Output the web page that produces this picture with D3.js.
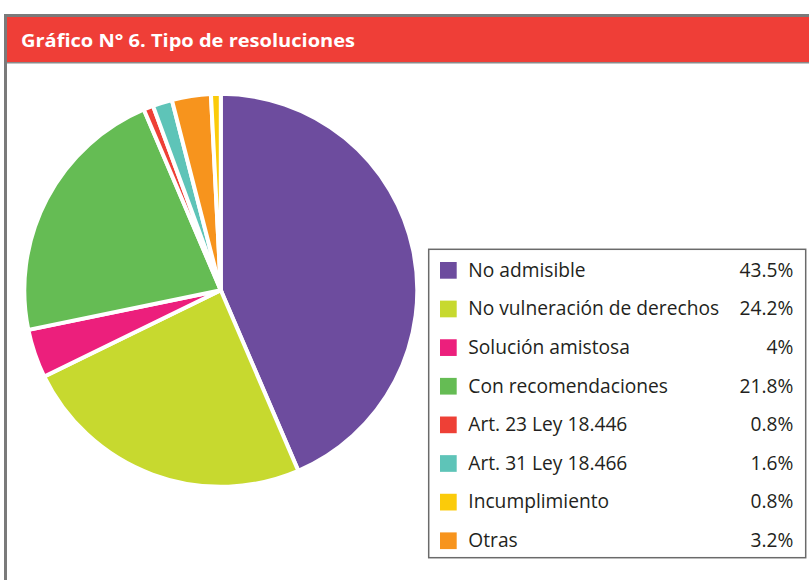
<!DOCTYPE html>
<html><head><meta charset="utf-8">
<script src="https://cdn.jsdelivr.net/npm/d3@7/dist/d3.min.js"></script>
<style>html,body{margin:0;padding:0;background:#fff;}svg{display:block;}</style>
</head><body>
<svg id="c" width="809" height="580"></svg>
<script>
const title = "Gráfico N° 6. Tipo de resoluciones";
const categories = ["No admisible","No vulneración de derechos","Solución amistosa","Con recomendaciones","Art. 23 Ley 18.446","Art. 31 Ley 18.466","Incumplimiento","Otras"];
const values = [43.5,24.2,4,21.8,0.8,1.6,0.8,3.2];
const valueLabels = ["43.5%","24.2%","4%","21.8%","0.8%","1.6%","0.8%","3.2%"];
const colors = ["#6D4C9E","#C7D92F","#EC1F7C","#65BC54","#EE4036","#5EC4B8","#FBCB0A","#F7941D"];
// order of slices in the pie (clockwise from 12 o'clock)
const pieOrder = [0,1,2,3,4,5,7,6];

const svg = d3.select("#c");
const font = "'Open Sans', sans-serif";

// frame
svg.append("rect").attr("x",5.5).attr("y",15.5).attr("width",820).attr("height",600)
  .attr("fill","#fff").attr("stroke","#7a7a7a").attr("stroke-width",3);
svg.append("rect").attr("x",7).attr("y",17).attr("width",810).attr("height",45).attr("fill","#EF3E37");
svg.append("line").attr("x1",7).attr("x2",809).attr("y1",62.7).attr("y2",62.7).attr("stroke","#8a8a8a").attr("stroke-width",1.5);

svg.append("text").attr("x",21).attr("y",47.3).attr("fill","#fff")
  .attr("font-family",font).attr("font-weight",700).attr("font-size",18.5)
  .attr("textLength",334).attr("lengthAdjust","spacingAndGlyphs").text(title);

// pie
const cx = 220.8, cy = 290.3, R = 196.5;
const pie = d3.pie().sort(null).value(i => values[i]);
const arc = d3.arc().innerRadius(0).outerRadius(R);
const g = svg.append("g").attr("transform",`translate(${cx},${cy})`);
g.selectAll("path").data(pie(pieOrder)).join("path")
  .attr("d",arc).attr("fill",d => colors[d.data])
  .attr("stroke","#fff").attr("stroke-width",4).attr("stroke-linejoin","miter");

// legend
svg.append("rect").attr("x",428.7).attr("y",249.3).attr("width",377).attr("height",308.4)
  .attr("fill","#fff").attr("stroke","#6a6a6a").attr("stroke-width",1.5);
const y = d3.scalePoint().domain(d3.range(categories.length)).range([270.3,540.7]);
const lg = svg.append("g");
const rows = lg.selectAll("g").data(d3.range(categories.length)).join("g")
  .attr("transform", i => `translate(0,${y(i)})`);
rows.append("rect").attr("x",440).attr("y",-8.3).attr("width",16.7).attr("height",16.7).attr("fill",i=>colors[i]);
const labs = rows.append("text").attr("x",468.3).attr("y",6.4).attr("fill","#231F20")
  .attr("font-family",font).attr("font-size",18).text(i=>categories[i]);
const lw = labs.nodes()[1].getComputedTextLength();
const fs = 18*251/lw;
labs.attr("font-size",fs);
rows.append("text").attr("x",793.3).attr("y",6.4).attr("text-anchor","end").attr("fill","#231F20")
  .attr("font-family",font).attr("font-size",fs).text(i=>valueLabels[i]);
</script>
</body></html>
